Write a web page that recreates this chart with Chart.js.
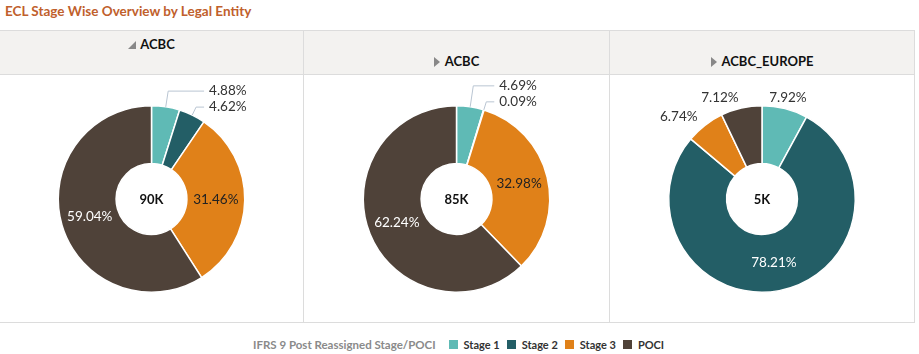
<!DOCTYPE html>
<html>
<head>
<meta charset="utf-8">
<script src="https://cdn.jsdelivr.net/npm/chart.js@4"></script>
<style>
  body { margin: 0; background: #fff; font-family: Lato, "Open Sans", sans-serif; }
  #title { position: absolute; left: 5px; top: 3px; font-size: 13.5px; font-weight: bold; color: #c0602c; }
  #grid { position: absolute; left: 0; top: 30px; width: 915px; height: 293px;
          border-top: 1px solid #dcdcdc; border-right: 1px solid #dcdcdc; border-bottom: 1px solid #dcdcdc; box-sizing: border-box; }
  .col { position: absolute; top: 0; height: 292px; box-sizing: border-box; }
  .col + .col { border-left: 1px solid #dcdcdc; }
  .head { height: 44px; background: #f3f2f0; border-bottom: 1px solid #dcdcdc; box-sizing: border-box; position: relative;
          font-size: 13px; font-weight: bold; color: #111; text-align: center; }
  .head span { position: absolute; left: 0; right: 0; }
  .tri-down { display: inline-block; width: 0; height: 0; border-left: 8px solid transparent; border-bottom: 8px solid #888; margin-right: 4px; vertical-align: 0px; }
  .tri-right { display: inline-block; width: 0; height: 0; border-top: 5px solid transparent; border-bottom: 5px solid transparent; border-left: 6px solid #888; margin-right: 5px; vertical-align: -1px; }
  .plot { position: relative; height: 248px; }
  #legend { position: absolute; top: 338px; left: 253px; font-size: 11.5px; display: flex; align-items: center; white-space: nowrap; }
  #legend .ttl { color: #8a8a8a; font-weight: bold; margin-right: 13px; }
  #legend .item { display: flex; align-items: center; margin-right: 7px; font-weight: bold; color: #333; font-size: 11px; }
  #legend .sw { width: 9px; height: 9px; margin-right: 6px; }
</style>
</head>
<body>
<div id="title">ECL Stage Wise Overview by Legal Entity</div>
<div id="grid">
  <div class="col" style="left:0;width:303px">
    <div class="head"><span style="top:5px"><i class="tri-down"></i>ACBC</span></div>
    <div class="plot"><canvas id="c0"></canvas></div>
  </div>
  <div class="col" style="left:303px;width:306px">
    <div class="head"><span style="top:22px"><i class="tri-right"></i>ACBC</span></div>
    <div class="plot"><canvas id="c1"></canvas></div>
  </div>
  <div class="col" style="left:609px;width:305px">
    <div class="head"><span style="top:22px"><i class="tri-right"></i>ACBC_EUROPE</span></div>
    <div class="plot"><canvas id="c2"></canvas></div>
  </div>
</div>
<div id="legend"></div>
<script>
// data
const stages = ['Stage 1', 'Stage 2', 'Stage 3', 'POCI'];
const stageColors = ['#5fbab5', '#235e66', '#e08119', '#4f4239'];
const totals = ['90K', '85K', '5K'];
const acbcPct = [4.88, 4.62, 31.46, 59.04];
const acbc2Pct = [4.69, 0.09, 32.98, 62.24];
const europePct = [7.92, 78.21, 6.74, 7.12];
const legendTitle = 'IFRS 9 Post Reassigned Stage/POCI';

// legend
const lg = document.getElementById('legend');
lg.innerHTML = '<span class="ttl">' + legendTitle + '</span>' +
  stages.map((s, i) => '<span class="item"><span class="sw" style="background:' + stageColors[i] + '"></span>' + s + '</span>').join('');

const isDark = c => {
  const n = parseInt(c.slice(1), 16);
  const r = n >> 16, g = (n >> 8) & 255, b = n & 255;
  return (0.299 * r + 0.587 * g + 0.114 * b) < 110;
};

// labels: inside for big slices, outside for small ones, leader lines for tiny ones
const labelPlugin = {
  id: 'sliceLabels',
  afterDatasetsDraw(chart, args, opts) {
    const ctx = chart.ctx;
    const meta = chart.getDatasetMeta(0);
    const vals = chart.data.datasets[0].data;
    const cols = chart.data.datasets[0].backgroundColor;
    ctx.save();
    ctx.font = '13.5px Lato, "Open Sans", sans-serif';
    ctx.textBaseline = 'middle';
    const leaders = [];
    meta.data.forEach((arc, i) => {
      const p = arc.getProps(['x', 'y', 'startAngle', 'endAngle', 'innerRadius', 'outerRadius'], true);
      const mid = (p.startAngle + p.endAngle) / 2;
      const dx = Math.cos(mid), dy = Math.sin(mid);
      const txt = vals[i].toFixed(2) + '%';
      if (vals[i] < 5) {
        leaders.push({ p, dx, dy, txt });
      } else if (vals[i] < 10) {
        const r = p.outerRadius + 12;
        ctx.fillStyle = '#333';
        ctx.textAlign = dx < -0.05 ? 'right' : 'center';
        ctx.fillText(txt, p.x + dx * r, p.y + dy * r + 1);
      } else {
        const r = (p.innerRadius + p.outerRadius) / 2;
        ctx.fillStyle = isDark(cols[i]) ? '#fff' : '#222';
        ctx.textAlign = 'center';
        ctx.fillText(txt, p.x + dx * r, p.y + dy * r);
      }
    });
    if (leaders.length) {
      let y = null;
      for (let k = leaders.length - 1; k >= 0; k--) {
        const L = leaders[k];
        const ex = L.p.x + L.dx * L.p.outerRadius, ey = L.p.y + L.dy * L.p.outerRadius;
        y = (y === null) ? ey - 8 : y - 16;
        const t = (ey - y) / -L.dy;
        L.ex = ex; L.ey = ey; L.ly = y; L.bx = ex + L.dx * t;
      }
      const endX = Math.max(...leaders.map(L => L.bx)) + 8;
      leaders.forEach(L => {
        ctx.strokeStyle = '#b9c5d2';
        ctx.lineWidth = 1;
        ctx.beginPath();
        ctx.moveTo(L.ex, L.ey);
        ctx.lineTo(L.bx, L.ly);
        ctx.lineTo(endX, L.ly);
        ctx.stroke();
        ctx.fillStyle = '#333';
        ctx.textAlign = 'left';
        ctx.fillText(L.txt, endX + 5, L.ly);
      });
    }
    // total in the hole
    const a = meta.data[0];
    ctx.font = 'bold 13px Lato, "Open Sans", sans-serif';
    ctx.fillStyle = '#111';
    ctx.textAlign = 'center';
    ctx.fillText(opts.total, a.x, a.y + 1);
    ctx.restore();
  }
};

function makePie(id, values, total) {
  return new Chart(document.getElementById(id), {
    type: 'doughnut',
    data: {
      labels: stages,
      datasets: [{
        data: values,
        backgroundColor: stageColors,
        borderColor: '#ffffff',
        borderWidth: 1.5
      }]
    },
    options: {
      responsive: true,
      maintainAspectRatio: false,
      animation: false,
      cutout: '38%',
      layout: { padding: { top: 30, bottom: 30 } },
      plugins: {
        legend: { display: false },
        tooltip: { enabled: false },
        sliceLabels: { total: total }
      }
    },
    plugins: [labelPlugin]
  });
}

makePie('c0', acbcPct, totals[0]);
makePie('c1', acbc2Pct, totals[1]);
makePie('c2', europePct, totals[2]);
</script>
</body>
</html>
